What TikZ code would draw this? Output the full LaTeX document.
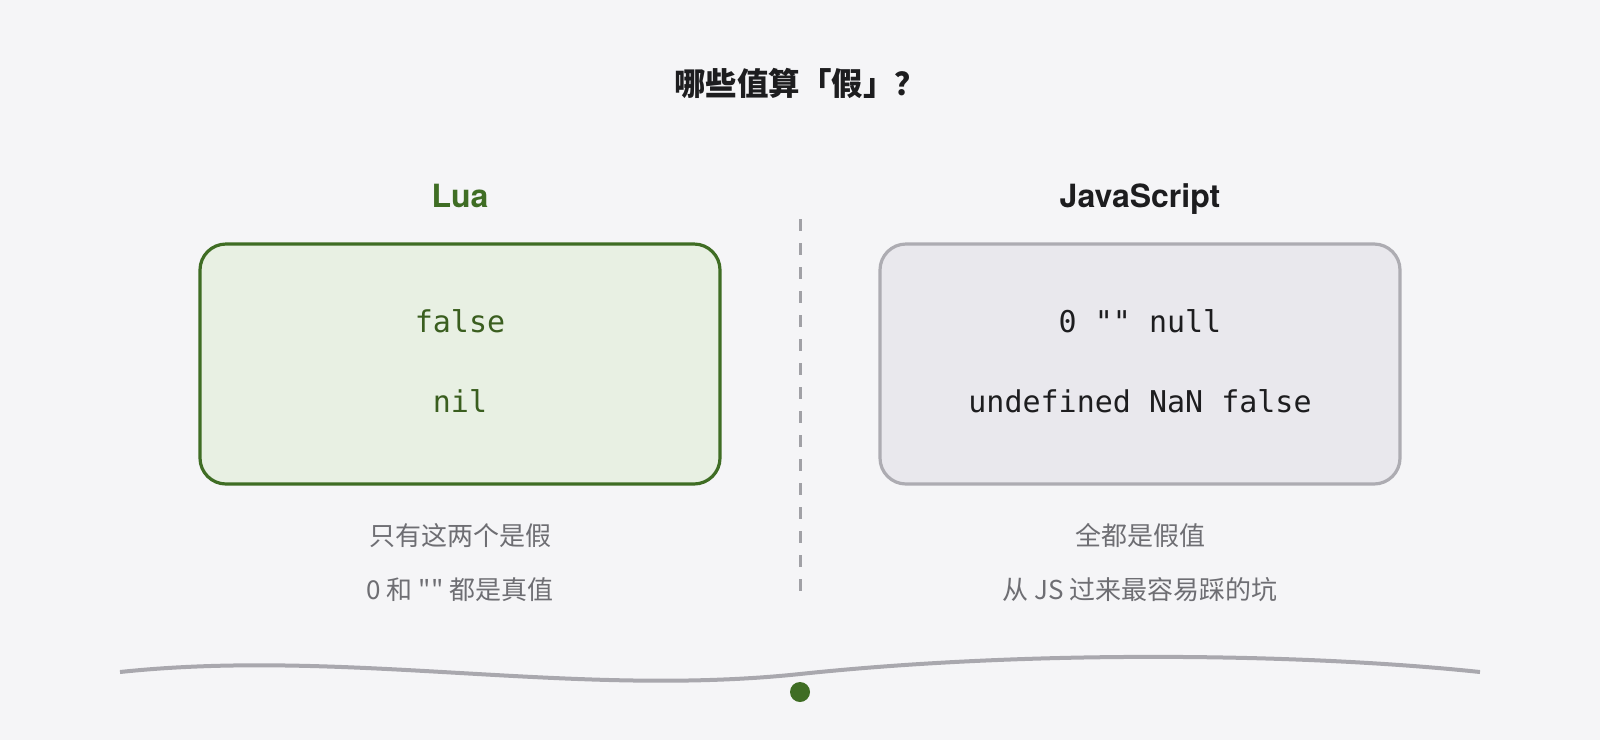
\documentclass[tikz,border=0pt]{standalone}
\usepackage{fontspec}
\setmainfont{TeX Gyre Heros}
\setmonofont{DejaVu Sans Mono}
\newfontfamily\cjk{Noto Sans CJK SC}
\usetikzlibrary{positioning}

\definecolor{bgcol}{HTML}{F5F5F7}
\definecolor{luagreen}{HTML}{3F6D24}
\definecolor{luafill}{HTML}{E8F0E3}
\definecolor{luatext}{HTML}{3A5E1F}
\definecolor{jsedge}{HTML}{ADACB2}
\definecolor{jsfill}{HTML}{E9E8ED}
\definecolor{inkdark}{HTML}{1D1D1F}
\definecolor{notegray}{HTML}{6E6E73}
\definecolor{divgray}{HTML}{A1A1A6}
\definecolor{wavegray}{HTML}{A9A8AE}

\begin{document}
\begin{tikzpicture}[x=1pt, y=-1pt,
                valuebox/.style={rectangle, rounded corners=26pt, line width=3.2pt, minimum width=520pt, minimum height=240pt, align=center, font=\fontsize{30}{80}\selectfont\ttfamily},
                luabox/.style={valuebox, draw=luagreen, fill=luafill, text=luatext},
                jsbox/.style={valuebox, draw=jsedge, fill=jsfill, text=inkdark},
                heading/.style={inner sep=0pt, text depth=0pt, font=\fontsize{32}{38}\selectfont\bfseries},
                note/.style={inner sep=0pt, text height=20pt, text depth=6pt, text=notegray, font=\cjk\fontsize{26}{30}\selectfont},
                ]
                \fill[bgcol] (0,0) rectangle (1600,740);

                %Nodes
                \node[text=inkdark, font=\cjk\bfseries\fontsize{31.5}{36}\selectfont] (title) at (800,83) {哪些值算「假」？};
                \node[luabox]      (luavals)   at (460,364)              {false\\nil\rule[-6pt]{0pt}{6pt}};
                \node[jsbox]       (jsvals)    at (1140,364)             {0 "" null\\undefined NaN false\rule[-6pt]{0pt}{6pt}};
                \node[heading, text=luagreen] (luahead)  [above=35pt of luavals] {Lua};
                \node[heading, text=inkdark]  (jshead)   [above=35pt of jsvals]  {JavaScript};
                \node[note]        (luanote)   [below=40pt of luavals]   {只有这两个是假};
                \node[note]        (luanote2)  [below=27pt of luanote]   {0 和 "" 都是真值};
                \node[note]        (jsnote)    [below=40pt of jsvals]    {全都是假值};
                \node[note]        (jsnote2)   [below=27pt of jsnote]    {从 JS 过来最容易踩的坑};
                \coordinate (divtop) at (800,219);
                \coordinate (divbot) at (800,592);
                \node[circle, fill=luagreen, minimum size=20pt, inner sep=0pt] (marker) at (800,692) {};

                %Lines
                \draw[divgray, line width=3pt, dash pattern=on 12pt off 12pt] (divtop) -- (divbot);
                \draw[wavegray, line width=4pt] (120,672) .. controls (347,648) and (573,698) .. (800,674)
                      .. controls (1027,650) and (1300,653) .. (1480,672);
\end{tikzpicture}
\end{document}
